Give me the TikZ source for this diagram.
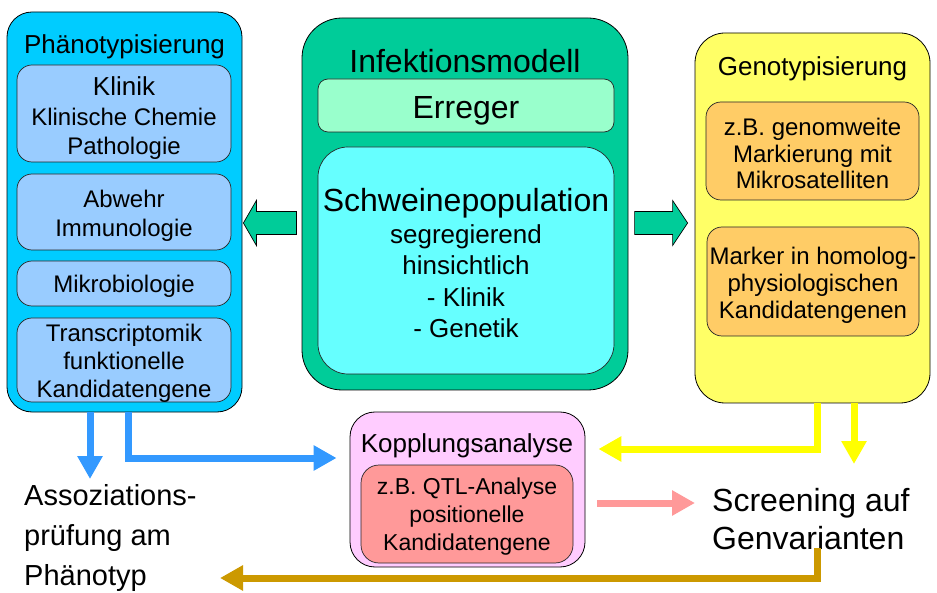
\documentclass[tikz,border=0pt]{standalone}
\usepackage{fontspec}
\setmainfont{Liberation Sans}
\usetikzlibrary{arrows.meta, positioning, calc}
\definecolor{phaenoblue}{RGB}{0, 204, 255}
\definecolor{innerblue}{RGB}{153, 204, 255}
\definecolor{infgreen}{RGB}{0, 204, 153}
\definecolor{erregergreen}{RGB}{153, 255, 204}
\definecolor{schweincyan}{RGB}{102, 255, 255}
\definecolor{genoyellow}{RGB}{255, 255, 102}
\definecolor{genoorange}{RGB}{255, 204, 102}
\definecolor{kopppink}{RGB}{255, 204, 255}
\definecolor{qtlred}{RGB}{255, 153, 153}
\definecolor{arrowblue}{RGB}{51, 153, 255}
\definecolor{arrowyellow}{RGB}{255, 255, 0}
\definecolor{arrowpink}{RGB}{255, 153, 153}
\definecolor{arrowgold}{RGB}{204, 153, 0}
\newcommand{\fsz}[2]{\fontsize{#1}{#2}\selectfont}
\tikzset{
  outerbox/.style   = {rectangle, draw=black, line width=0.8pt, inner sep=0pt},
  innerbox/.style   = {rectangle, draw=black!85, line width=0.7pt, inner sep=0pt, rounded corners=15pt},
  boxtext/.style    = {inner sep=0pt, align=center},
  boxtitle/.style   = {inner sep=0pt, font=\fsz{26}{30}},
  freelabel/.style  = {inner sep=0pt, align=left, anchor=west},
  blockarrow/.style = {fill=infgreen, draw=black, line width=0.7pt, line join=miter},
  flowtip/.style    = {-{Triangle[length=23pt, width=24pt]}, line width=7pt},
  flowblue/.style   = {flowtip, arrowblue},
  flowyellow/.style = {flowtip, arrowyellow},
  flowpink/.style   = {flowtip, arrowpink},
  flowgold/.style   = {flowtip, arrowgold},
}

\begin{document}
\begin{tikzpicture}[x=1pt, y=-1pt]
  \useasboundingbox (0,0) rectangle (937,593);

  % Phaenotypisierung
  \node[outerbox, fill=phaenoblue, rounded corners=25pt, minimum width=235pt, minimum height=400pt] (phaeno) at (124.5,212) {};
  \node[boxtitle] (phaenotitle) at (124.5,47) {Phänotypisierung};
  \node[innerbox, fill=innerblue, minimum width=214pt, minimum height=97pt] (klinik) at (124,113.5) {};
  \node[boxtext, font=\fsz{24}{29.5}] (klinikt) at ($(klinik)+(0,5)$) {{\fsz{26}{31}Klinik}\\Klinische Chemie\\Pathologie};
  \node[innerbox, fill=innerblue, minimum width=214pt, minimum height=76pt] (abwehr) at (124,212) {};
  \node[boxtext, font=\fsz{24}{29}] (abwehrt) at ($(abwehr)+(0,4)$) {Abwehr\\Immunologie};
  \node[innerbox, fill=innerblue, minimum width=214pt, minimum height=45pt] (mikro) at (124,283.5) {};
  \node[boxtext, font=\fsz{24}{29}] (mikrot) at ($(mikro)+(0,3)$) {Mikrobiologie};
  \node[innerbox, fill=innerblue, minimum width=214pt, minimum height=84pt] (transcr) at (124,360) {};
  \node[boxtext, font=\fsz{24}{28}] (transcrt) at ($(transcr)+(0,3)$) {Transcriptomik\\funktionelle\\Kandidatengene};

  % Infektionsmodell
  \node[outerbox, fill=infgreen, rounded corners=40pt, minimum width=326pt, minimum height=372pt] (infekt) at (465,204) {};
  \node[boxtitle, font=\fsz{32}{36}] (infekttitle) at (465,61) {Infektionsmodell};
  \node[innerbox, fill=erregergreen, rounded corners=10pt, minimum width=296pt, minimum height=53pt] (erreger) at (466,105.5) {};
  \node[boxtext, font=\fsz{32}{36}] (erregert) at ($(erreger)+(0,5)$) {Erreger};
  \node[innerbox, fill=schweincyan, rounded corners=30pt, minimum width=296pt, minimum height=227pt] (schwein) at (466,260.5) {};
  \node[boxtext, font=\fsz{26}{31.5}] (schweint) at ($(schwein)+(0,3)$)
    {{\fsz{32}{35}Schweinepopulation}\\segregierend\\hinsichtlich\\- Klinik\\- Genetik};

  % Genotypisierung
  \node[outerbox, fill=genoyellow, rounded corners=30pt, minimum width=235pt, minimum height=370pt] (geno) at (812.5,218) {};
  \node[boxtitle] (genotitle) at (812.5,69) {Genotypisierung};
  \node[innerbox, fill=genoorange, minimum width=213pt, minimum height=98pt] (marker1) at (812.5,151) {};
  \node[boxtext, font=\fsz{24}{26.5}] (marker1t) at ($(marker1)+(0,2.5)$) {z.B. genomweite\\Markierung mit\\Mikrosatelliten};
  \node[innerbox, fill=genoorange, minimum width=212pt, minimum height=109pt] (marker2) at (813,281.5) {};
  \node[boxtext, font=\fsz{24}{27}] (marker2t) at ($(marker2)+(0,4)$) {Marker in homolog-\\physiologischen\\Kandidatengenen};

  % Kopplungsanalyse
  \node[outerbox, fill=kopppink, rounded corners=25pt, minimum width=235pt, minimum height=155pt] (kopp) at (467.5,489.5) {};
  \node[boxtitle] (kopptitle) at (467,445.5) {Kopplungsanalyse};
  \node[innerbox, fill=qtlred, rounded corners=18pt, minimum width=212pt, minimum height=98pt] (qtl) at (467,514) {};
  \node[boxtext, font=\fsz{23}{28}] (qtlt) at ($(qtl)+(0,2.5)$) {z.B. QTL-Analyse\\positionelle\\Kandidatengene};

  % free labels
  \node[freelabel, font=\fsz{29}{40}] (asso) at (24,538) {Assoziations-\\prüfung am\\Phänotyp};
  \node[freelabel, font=\fsz{32}{38}] (screen) at (712,519.5) {Screening auf\\Genvarianten};

  % block arrows
  \draw[blockarrow] ($(phaeno.east)+(1,11)$) -- ++(13,-22.5) -- ++(0,11) -- ++(40,0) -- ++(0,23) -- ++(-40,0) -- ++(0,11) -- cycle;
  \draw[blockarrow] ($(geno.west)+(-7,5)$) -- ++(-15,-22.5) -- ++(0,11) -- ++(-38,0) -- ++(0,23) -- ++(38,0) -- ++(0,11) -- cycle;

  % flow arrows
  \coordinate (assotip) at (90,479);
  \coordinate (screentip) at (854,464);
  \coordinate (goldstart) at (817,548);
  \coordinate (goldtip) at (220,578);
  \draw[flowblue] ($(phaeno.south)+(-34.5,0)$) -- (assotip);
  \draw[flowblue] ($(phaeno.south)+(4,0)$) |- ($(kopp.west)+(-13,-31.5)$);
  \draw[flowyellow] ($(geno.south)+(4.5,0)$) |- ($(kopp.east)+(13,-40.5)$);
  \draw[flowyellow] ($(geno.south)+(41.5,0)$) -- (screentip);
  \draw[flowpink] ($(kopp.east)+(12,13.5)$) -- ($(screen.west)+(-17,-16.5)$);
  \draw[flowgold] (goldstart) |- (goldtip);
\end{tikzpicture}
\end{document}
